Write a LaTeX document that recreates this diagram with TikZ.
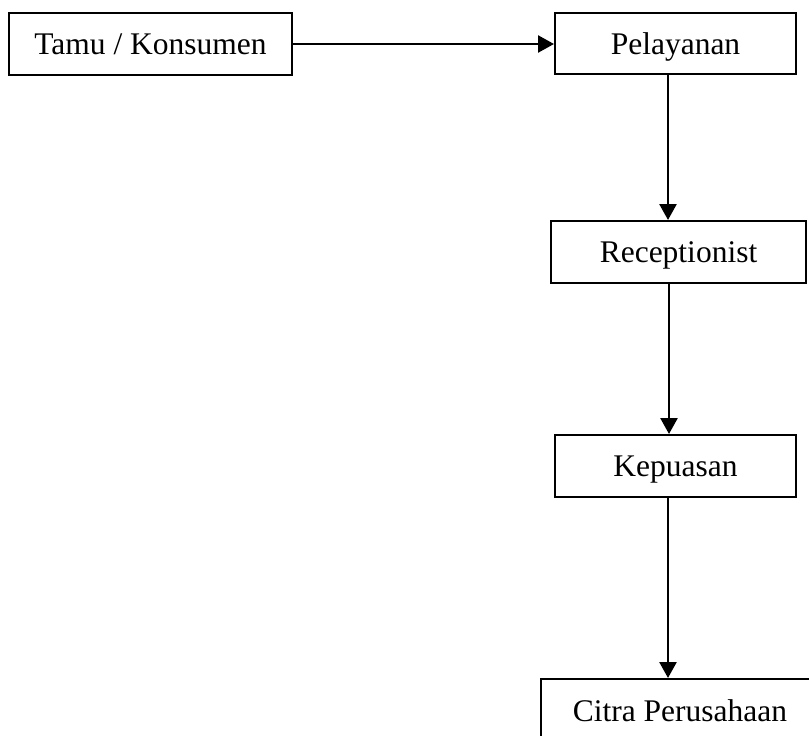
\documentclass[tikz,border=0pt]{standalone}
\usepackage{fontspec}
\setmainfont{Liberation Serif}
\usetikzlibrary{arrows.meta}
\begin{document}
\begin{tikzpicture}[x=1pt,y=-1pt,
  box/.style={draw=black, line width=2pt, inner sep=0pt, anchor=center,
    text height=21pt, text depth=0pt,
    font=\fontsize{31.5}{38}\selectfont},
  arr/.style={line width=2.6pt, -{Triangle[width=17pt,length=16pt]}}]
\useasboundingbox (0,0) rectangle (809,736);
\clip (0,0) rectangle (809,736);
\node[box, minimum width=283pt, minimum height=62pt] (B1) at (150.5,44) {Tamu / Konsumen};
\node[box, minimum width=241pt, minimum height=61pt] (B2) at (675.5,43.5) {Pelayanan};
\node[box, minimum width=255pt, minimum height=62pt] (B3) at (678.5,252) {Receptionist};
\node[box, minimum width=241pt, minimum height=62pt] (B4) at (675.5,466) {Kepuasan};
\node[box, minimum width=278pt, minimum height=64pt] (B5) at (680,711) {Citra Perusahaan};
\coordinate (p1) at (668,74);
\coordinate (p2) at (669,283);
\coordinate (p3) at (668,497);
\draw[arr] (B1.east) -- (B1.east -| B2.west);
\draw[arr] (p1) -- (p1 |- B3.north);
\draw[arr] (p2) -- (p2 |- B4.north);
\draw[arr] (p3) -- (p3 |- B5.north);
\end{tikzpicture}
\end{document}
